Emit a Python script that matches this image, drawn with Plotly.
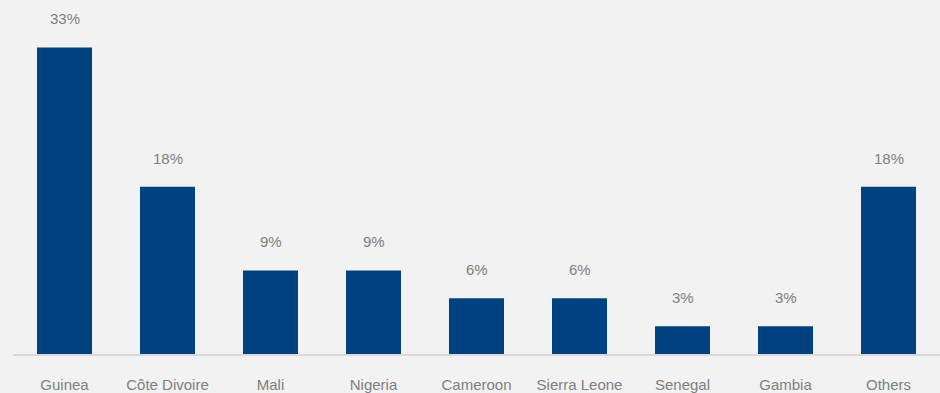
import plotly.graph_objects as go

categories = ["Guinea", "Côte Divoire", "Mali", "Nigeria", "Cameroon",
              "Sierra Leone", "Senegal", "Gambia", "Others"]
values = [33, 18, 9, 9, 6, 6, 3, 3, 18]
labels = [f"{v}%" for v in values]

BG = "#f2f2f2"
BAR = "#00427f"

fig = go.Figure()
fig.add_trace(go.Bar(x=categories, y=values, marker=dict(color=BAR, line=dict(width=0)),
                     hoverinfo="skip"))

for c, v, t in zip(categories, values, labels):
    fig.add_annotation(x=c, y=v, text=t, showarrow=False, yanchor="bottom", yshift=18,
                       font=dict(family="Liberation Sans, Arial", size=15, color="#7f7f7f"))

fig.update_layout(
    width=940, height=393,
    paper_bgcolor=BG, plot_bgcolor=BG,
    margin=dict(l=13, r=0, t=0, b=39),
    bargap=0.466,
    showlegend=False,
    font=dict(family="Liberation Sans, Arial", size=15, color="#7f7f7f"),
    xaxis=dict(showline=True, linecolor="#d9d9d9", linewidth=2, showgrid=False,
               ticks="", ticklabelstandoff=16, automargin=False,
               tickfont=dict(size=15, color="#7f7f7f")),
    yaxis=dict(range=[0, 354 / 9.29], visible=False, showgrid=False, fixedrange=True),
)

fig.write_html("out.html", config={"displayModeBar": False},
               post_script="document.body.style.margin='0';document.body.style.overflow='hidden';")
